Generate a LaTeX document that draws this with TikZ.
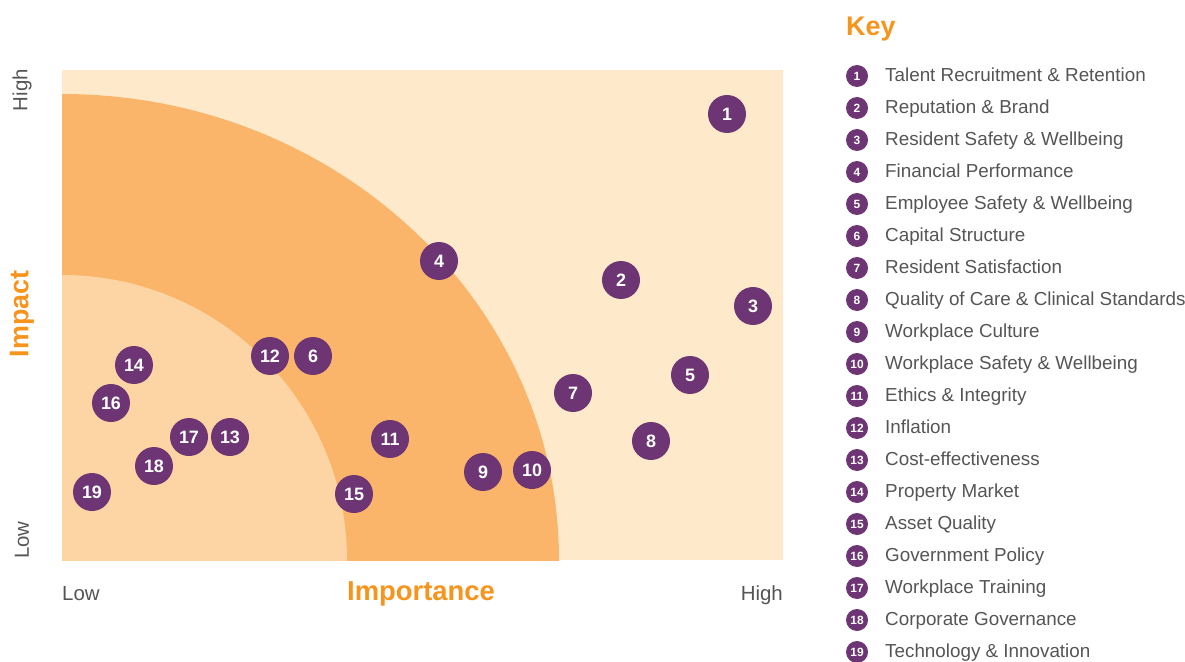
\documentclass[tikz,border=0pt]{standalone}
\usepackage{fontspec}
\setmainfont{Liberation Sans}
\definecolor{bgl}{HTML}{FEEACB}
\definecolor{bgm}{HTML}{FAB56B}
\definecolor{bgi}{HTML}{FDD4A3}
\definecolor{purp}{HTML}{6D3573}
\definecolor{orng}{HTML}{F7941D}
\definecolor{txtg}{HTML}{555555}
\tikzset{
  issue/.style={circle, fill=purp, minimum size=38bp, inner sep=0pt, text=white, font=\fontsize{18}{18}\selectfont\bfseries},
  keydot/.style={circle, fill=purp, minimum size=22bp, inner sep=0pt, text=white, font=\fontsize{12}{12}\selectfont\bfseries},
  keytext/.style={anchor=base west, inner sep=0pt, text=txtg, font=\fontsize{18.9}{18.9}\selectfont},
  axlab/.style={inner sep=0pt, text=txtg, font=\fontsize{20.5}{20.5}\selectfont},
  title/.style={inner sep=0pt, text=orng, font=\fontsize{27}{27}\selectfont\bfseries}
}
\begin{document}
\begin{tikzpicture}[x=1bp,y=-1bp]
\useasboundingbox (0,0) rectangle (1185,662);
% plot area
\fill[bgl] (62,70) rectangle (783,560);
\begin{scope}
  \clip (62,70) rectangle (783,560);
  \fill[bgm] (62,560) ellipse [x radius=497, y radius=466];
  \fill[bgi] (62,560) circle [radius=285];
\end{scope}
% axis labels
\node[axlab, rotate=90] (yhigh) at (22,90) {High};
\node[axlab, rotate=90] (ylow) at (22,540) {Low};
\node[title, rotate=90] (impact) at (22,314) {Impact};
\node[axlab, anchor=base west] (xlow) at (62,600) {Low};
\node[axlab, anchor=base east] (xhigh) at (783,600) {High};
\node[title, font=\fontsize{27.5}{27.5}\selectfont\bfseries, anchor=base] (importance) at (421,600) {Importance};
% issues
\node[issue] (i1) at (727,114) {1};
\node[issue] (i2) at (621,280) {2};
\node[issue] (i3) at (753,306) {3};
\node[issue] (i4) at (439,261) {4};
\node[issue] (i5) at (690,375) {5};
\node[issue] (i6) at (313,356) {6};
\node[issue] (i7) at (573,393) {7};
\node[issue] (i8) at (651,441) {8};
\node[issue] (i9) at (483,472) {9};
\node[issue] (i10) at (532,470) {10};
\node[issue] (i11) at (390,439) {11};
\node[issue] (i12) at (270,356) {12};
\node[issue] (i13) at (230,437) {13};
\node[issue] (i14) at (134,365) {14};
\node[issue] (i15) at (354,494) {15};
\node[issue] (i16) at (111,403) {16};
\node[issue] (i17) at (189,437) {17};
\node[issue] (i18) at (154,466) {18};
\node[issue] (i19) at (92,492) {19};
% key
\node[title, anchor=base west] (key) at (846,36) {Key};
\foreach \n/\t [count=\i from 0] in {
  1/Talent Recruitment \& Retention,
  2/Reputation \& Brand,
  3/Resident Safety \& Wellbeing,
  4/Financial Performance,
  5/Employee Safety \& Wellbeing,
  6/Capital Structure,
  7/Resident Satisfaction,
  8/Quality of Care \& Clinical Standards,
  9/Workplace Culture,
  10/Workplace Safety \& Wellbeing,
  11/Ethics \& Integrity,
  12/Inflation,
  13/Cost-effectiveness,
  14/Property Market,
  15/Asset Quality,
  16/Government Policy,
  17/Workplace Training,
  18/Corporate Governance,
  19/Technology \& Innovation}{
  \node[keydot] (k\n) at (857,{76+32*\i}) {\n};
  \node[keytext] (kt\n) at (885,{81.5+32*\i}) {\t};
}
\end{tikzpicture}
\end{document}
